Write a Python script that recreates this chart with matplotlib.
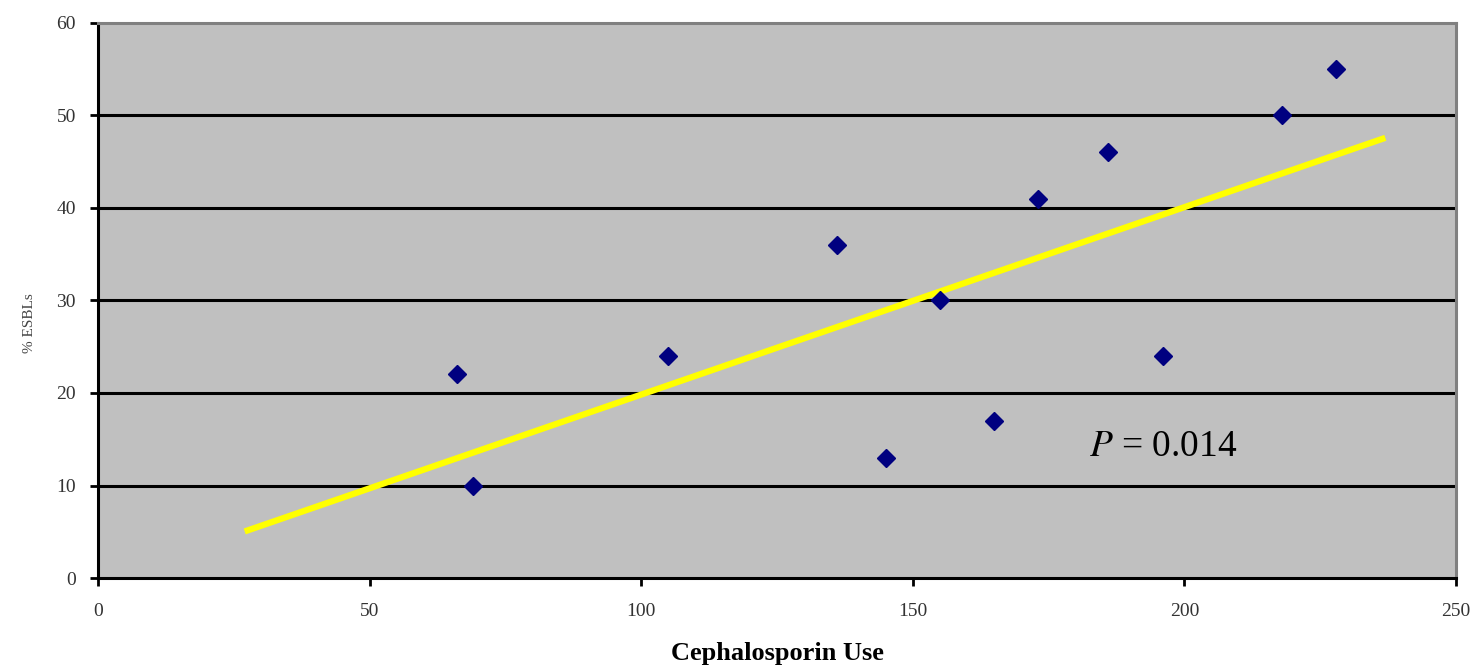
import numpy as np
import matplotlib
matplotlib.use("Agg")
import matplotlib.pyplot as plt

# uso de cefalosporina vs % ESBLs
uso_cefalo = [66, 69, 105, 136, 145, 155, 165, 173, 186, 196, 218, 228]
pct_esbl = [22, 10, 24, 36, 13, 30, 17, 41, 46, 24, 50, 55]
faixa_tendencia = [27, 237]

x_ticks = [0, 50, 100, 150, 200, 250]
y_ticks = [0, 10, 20, 30, 40, 50, 60]

plt.rcParams['font.family'] = ['Liberation Serif', 'DejaVu Serif']
plt.rcParams['mathtext.fontset'] = 'stix'

fig = plt.figure(figsize=(14.79, 6.70), dpi=100)
ax = fig.add_axes([0.0663, 0.1373, 0.9181, 0.8284])
ax.set_facecolor('#C0C0C0')

# linhas de grade horizontais pretas
for y in y_ticks[1:-1]:
    ax.axhline(y, color='black', lw=2.2, zorder=1)

# linha de tendencia (minimos quadrados)
coef = np.polyfit(uso_cefalo, pct_esbl, 1)
xt = np.array(faixa_tendencia)
ax.plot(xt, np.polyval(coef, xt), color='#FFFF00', lw=4.5, zorder=2,
        solid_capstyle='butt')

ax.plot(uso_cefalo, pct_esbl, 'D', color='#000080', markersize=9,
        zorder=3, linestyle='none')

ax.text(182.5, 14.2, r'$P$ = 0.014', fontsize=27, va='center', ha='left')

ax.set_xlim(0, 250)
ax.set_ylim(0, 60)
ax.set_xticks(x_ticks)
ax.set_yticks(y_ticks)
ax.tick_params(axis='both', direction='out', length=6, width=2,
               labelsize=14, labelcolor='#333333', color='black')
ax.tick_params(axis='y', pad=10)
ax.tick_params(axis='x', pad=12)

for lado in ['left', 'bottom']:
    ax.spines[lado].set_color('black')
    ax.spines[lado].set_linewidth(2.2)
for lado in ['top', 'right']:
    ax.spines[lado].set_color('#808080')
    ax.spines[lado].set_linewidth(2.2)

ax.set_xlabel('Cephalosporin Use', fontsize=19, fontweight='bold', labelpad=16)
ax.set_ylabel('% ESBLs', fontsize=11, color='#444444')
ax.yaxis.set_label_coords(-0.046, 0.46)

fig.savefig('out.png', dpi=100, facecolor='white')
